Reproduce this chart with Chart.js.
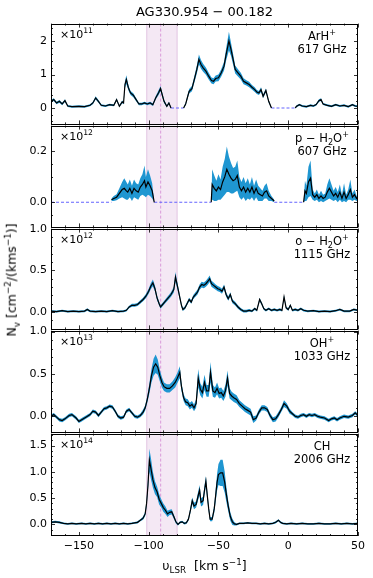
<!DOCTYPE html>
<html>
<head>
<meta charset="utf-8">
<script src="https://cdn.jsdelivr.net/npm/chart.js@4.4.1/dist/chart.umd.min.js"></script>
<style>
  body { margin: 0; background: #fff; }
  #wrap { position: relative; width: 373px; height: 578px; font-family: 'DejaVu Sans', sans-serif; color: #000; overflow: hidden; }
  #wrap canvas { position: absolute; left: 0; }
  .t { position: absolute; white-space: nowrap; line-height: 1; transform: translate(-50%, -50%); }
  .t sup, .t sub { font-size: 70%; line-height: 0; }
  .spec { text-align: center; line-height: 12.5px; font-size: 11.5px; }
</style>
</head>
<body>
<div id="wrap"></div>
<script>
Chart.defaults.font.family = "'DejaVu Sans', sans-serif";
Chart.defaults.font.size = 11;
Chart.defaults.color = '#000';

// ---- data: [v_LSR (km/s), N_v (scaled), error]; null = masked gap ----
const ARH = [
  [-170,0.20,0.04],[-168,0.25,0.04],[-166,0.15,0.04],[-164,0.20,0.04],[-162,0.12,0.04],[-160,0.22,0.04],
  [-158,0.06,0.03],[-155,0.04,0.03],[-150,0.05,0.03],[-146,0.04,0.03],[-142,0.08,0.03],[-140,0.15,0.04],
  [-138,0.30,0.05],[-136,0.20,0.04],[-134,0.08,0.03],[-131,0.06,0.03],[-128,0.10,0.03],[-125,0.08,0.03],
  [-123,0.25,0.04],[-121,0.05,0.03],[-119,0.18,0.04],[-118,0.15,0.04],[-117,0.70,0.10],[-116,0.85,0.13],
  [-114.5,0.60,0.08],[-113,0.45,0.06],[-111,0.38,0.06],[-109,0.25,0.05],[-107,0.12,0.04],[-105,0.12,0.04],
  [-103,0.15,0.04],[-101,0.12,0.04],[-99,0.15,0.04],[-97,0.10,0.04],[-95,0.30,0.05],[-93,0.45,0.07],
  [-91.5,0.58,0.08],[-90,0.35,0.06],[-89,0.20,0.05],[-87,0.05,0.03],[-85.5,0.15,0.04],[-84,0.00,0.02],
  null,
  [-75,0.00,0.02],[-73.5,0.12,0.04],[-72,0.35,0.06],[-71,0.50,0.07],[-69,0.58,0.08],[-67,0.90,0.10],
  [-65.5,1.15,0.12],[-64,1.45,0.15],[-62.5,1.30,0.13],[-61,1.20,0.12],[-59,1.10,0.11],[-57,0.95,0.10],
  [-55,0.82,0.09],[-53.5,0.80,0.09],[-52,0.88,0.09],[-50,0.90,0.10],[-48,1.05,0.11],[-46,1.25,0.13],
  [-44.5,1.60,0.18],[-42.5,2.00,0.28],[-41,1.75,0.20],[-39.5,1.45,0.16],[-38,1.15,0.12],[-36,1.05,0.11],
  [-34,0.95,0.10],[-32,0.80,0.09],[-30,0.75,0.08],[-28,0.70,0.08],[-26,0.62,0.07],[-24,0.55,0.07],
  [-22.5,0.48,0.06],[-21,0.45,0.06],[-19.5,0.55,0.07],[-18,0.35,0.05],[-16,0.52,0.06],[-14,0.20,0.04],
  [-12,0.00,0.02],
  null,
  [5,0.00,0.02],[6,0.05,0.03],[8,0.10,0.03],[10,0.06,0.03],[13,0.04,0.03],[16,0.08,0.03],[18,0.06,0.03],
  [20,0.10,0.03],[22,0.22,0.04],[23.5,0.25,0.04],[25,0.12,0.03],[28,0.08,0.03],[31,0.05,0.03],
  [34,0.10,0.03],[37,0.06,0.03],[40,0.08,0.03],[43,0.04,0.03],[46,0.10,0.03],[48,0.06,0.03],[50,0.05,0.03]
];
const ARH_MASK = [[-84,-75],[-12,5]];

const PH2O = [
  [-126.7,0.010,0.005],[-125,0.015,0.010],[-123,0.020,0.012],[-121,0.035,0.020],[-119,0.050,0.030],
  [-117.5,0.055,0.040],[-116,0.045,0.035],[-115,0.040,0.030],[-113.5,0.055,0.035],[-112,0.035,0.030],
  [-110.5,0.055,0.035],[-109,0.045,0.030],[-107.5,0.040,0.030],[-106,0.060,0.035],[-104.5,0.070,0.040],
  [-103,0.085,0.060],[-102,0.060,0.040],[-100.5,0.080,0.050],[-99,0.065,0.040],[-97.5,0.045,0.030],
  [-96,0.000,0.000],
  null,
  [-55.2,0.000,0.000],[-54.5,0.070,0.060],[-53,0.055,0.050],[-51.5,0.045,0.040],[-50,0.060,0.050],
  [-48.5,0.050,0.040],[-47,0.080,0.060],[-45.5,0.100,0.070],[-44,0.130,0.090],[-42.5,0.110,0.070],
  [-41,0.095,0.060],[-39.5,0.085,0.050],[-38,0.090,0.050],[-36.5,0.105,0.060],[-35,0.060,0.040],
  [-33.5,0.045,0.035],[-32,0.060,0.040],[-30.5,0.040,0.035],[-29,0.055,0.040],[-27.5,0.040,0.030],
  [-26,0.060,0.040],[-24.5,0.035,0.030],[-23,0.055,0.035],[-21.5,0.035,0.030],[-20,0.030,0.025],
  [-18.5,0.025,0.020],[-17,0.040,0.025],[-15.5,0.045,0.030],[-14,0.025,0.020],[-12,0.015,0.010],
  [-10,0.005,0.005],
  null,
  [11,0.000,0.000],[12,0.045,0.040],[13,0.035,0.030],[14.5,0.080,0.060],[16,0.095,0.070],[17.5,0.030,0.020],
  [19,0.020,0.015],[20.5,0.030,0.020],[22,0.015,0.015],[23.5,0.025,0.020],[25,0.015,0.015],
  [26.5,0.020,0.015],[28,0.040,0.030],[29.5,0.055,0.040],[31,0.040,0.030],[32.5,0.025,0.020],
  [34,0.035,0.025],[35.5,0.020,0.020],[37,0.040,0.030],[38.5,0.015,0.015],[40,0.040,0.035],
  [41.5,0.015,0.015],[43,0.030,0.020],[44.5,0.050,0.040],[46,0.020,0.015],[47.5,0.030,0.020],
  [49,0.015,0.010],[50,0.020,0.010]
];
const PH2O_MASK = [[-170,-126.7],[-96,-55.2],[-10,11]];

const OH2O = [
  [-170,0.010,0.012],[-166,0.005,0.012],[-162,0.015,0.012],[-158,0.005,0.012],[-154,0.010,0.012],
  [-150,0.005,0.012],[-146,0.010,0.012],[-144,0.030,0.014],[-142,0.010,0.012],[-138,0.005,0.012],
  [-134,0.010,0.012],[-130,0.005,0.012],[-126,0.015,0.012],[-122,0.005,0.012],[-118,0.010,0.012],
  [-116,0.020,0.014],[-114,0.060,0.016],[-112,0.080,0.018],[-110,0.080,0.018],[-108,0.090,0.018],
  [-106,0.120,0.020],[-104,0.150,0.022],[-102,0.190,0.025],[-100,0.250,0.030],[-98.5,0.310,0.035],
  [-97,0.350,0.040],[-95.5,0.280,0.035],[-94,0.170,0.028],[-92.5,0.100,0.022],[-91.5,0.060,0.020],
  [-90,0.090,0.020],[-88,0.130,0.022],[-86,0.170,0.025],[-84,0.210,0.028],[-82,0.270,0.035],
  [-80.8,0.420,0.060],[-79.5,0.320,0.040],[-78,0.200,0.030],[-76.5,0.080,0.022],[-75.5,0.030,0.018],
  [-74,0.050,0.018],[-72.5,0.100,0.020],[-71,0.150,0.022],[-69.5,0.120,0.022],[-68,0.180,0.025],
  [-66.5,0.210,0.028],[-65,0.240,0.030],[-63.5,0.300,0.032],[-62,0.330,0.035],[-60.5,0.320,0.035],
  [-59,0.340,0.035],[-57.5,0.370,0.038],[-56.3,0.400,0.040],[-55,0.340,0.035],[-53.5,0.320,0.035],
  [-52,0.300,0.032],[-50.5,0.280,0.032],[-49,0.270,0.030],[-47.5,0.250,0.030],[-46,0.300,0.032],
  [-44.5,0.210,0.028],[-43,0.160,0.025],[-41.5,0.210,0.028],[-40,0.130,0.024],[-38,0.100,0.022],
  [-36,0.060,0.020],[-34,0.030,0.018],[-32,0.010,0.016],[-30,0.010,0.016],[-28,0.020,0.015],
  [-26,0.010,0.014],[-24,0.040,0.015],[-22.5,0.020,0.014],[-20.5,0.150,0.020],[-19,0.100,0.018],
  [-17.5,0.040,0.015],[-16,0.020,0.014],[-14,0.040,0.014],[-12,0.020,0.014],[-10,0.030,0.014],
  [-8,0.020,0.014],[-6,0.030,0.014],[-4.5,0.020,0.014],[-3,0.180,0.020],[-1.5,0.050,0.015],
  [0,0.030,0.014],[1.5,0.080,0.016],[3,0.020,0.014],[5,0.030,0.014],[7,0.020,0.013],[9,0.040,0.014],
  [11,0.020,0.013],[14,0.010,0.012],[18,0.015,0.012],[22,0.005,0.012],[26,0.010,0.012],
  [30,0.005,0.012],[34,0.015,0.012],[37,0.030,0.013],[40,0.010,0.012],[44,0.010,0.012],
  [47,0.030,0.013],[50,0.020,0.012]
];

const OHP = [
  [-170,0.00,0.02],[-168,0.02,0.02],[-166,-0.01,0.02],[-164,-0.04,0.02],[-162,-0.05,0.02],[-160,-0.03,0.02],
  [-157,0.01,0.02],[-155,0.02,0.02],[-152,-0.02,0.02],[-150,-0.06,0.02],[-148,-0.04,0.02],[-145,-0.01,0.02],
  [-142,0.02,0.02],[-140,0.06,0.02],[-138,0.05,0.02],[-136,0.01,0.02],[-134,0.05,0.02],[-132,0.09,0.02],
  [-130,0.10,0.02],[-128,0.12,0.02],[-126,0.11,0.02],[-124,0.06,0.02],[-122,0.00,0.02],[-120,-0.02,0.02],
  [-118,-0.01,0.02],[-116,0.06,0.02],[-114,0.08,0.02],[-112,0.04,0.02],[-110,0.00,0.02],[-108,-0.01,0.02],
  [-106,0.01,0.02],[-104,0.05,0.03],[-102.5,0.10,0.03],[-101,0.20,0.04],[-99.5,0.33,0.06],[-98,0.48,0.08],
  [-96.5,0.58,0.10],[-95,0.62,0.11],[-93.5,0.58,0.09],[-92,0.48,0.07],[-90.5,0.40,0.06],[-89,0.35,0.05],
  [-87,0.33,0.05],[-85,0.33,0.05],[-83,0.36,0.05],[-81,0.40,0.06],[-79.5,0.45,0.06],[-77.7,0.52,0.07],
  [-76.5,0.35,0.05],[-75,0.22,0.04],[-73.5,0.17,0.04],[-72,0.16,0.04],[-70.5,0.12,0.04],[-69,0.14,0.04],
  [-67.5,0.10,0.04],[-66,0.15,0.05],[-64.5,0.45,0.11],[-63,0.32,0.07],[-61.5,0.28,0.07],[-60,0.40,0.09],
  [-58.5,0.30,0.07],[-57,0.30,0.07],[-55.7,0.52,0.12],[-54,0.30,0.07],[-52.5,0.28,0.06],[-51,0.33,0.07],
  [-49.5,0.27,0.06],[-48,0.28,0.06],[-46.5,0.24,0.06],[-45,0.30,0.07],[-43.5,0.45,0.09],[-42,0.27,0.06],
  [-40.5,0.24,0.05],[-39,0.22,0.05],[-37,0.20,0.05],[-35,0.15,0.04],[-33,0.12,0.04],[-31,0.09,0.04],
  [-29,0.07,0.04],[-27,0.05,0.04],[-25,-0.04,0.04],[-23,-0.02,0.03],[-21,0.05,0.03],[-19,0.10,0.03],
  [-17,0.10,0.03],[-15,0.08,0.03],[-13,0.01,0.03],[-11,-0.04,0.03],[-9,-0.03,0.03],[-7,0.02,0.03],
  [-5,0.08,0.03],[-3,0.15,0.04],[-1,0.12,0.03],[1,0.06,0.03],[3,0.03,0.02],[5,0.00,0.02],
  [7,-0.01,0.02],[9,0.01,0.02],[11,0.02,0.02],[13,0.00,0.02],[15,0.02,0.02],[17,0.01,0.02],
  [19,0.02,0.02],[21,0.00,0.02],[23,-0.01,0.02],[26,-0.02,0.02],[29,-0.05,0.02],[31,-0.03,0.02],
  [33,-0.02,0.02],[35,-0.04,0.02],[37,-0.02,0.02],[40,0.00,0.02],[43,-0.01,0.02],[46,0.01,0.02],
  [48,0.04,0.02],[50,0.01,0.02]
];

const CH = [
  [-170,0.04,0.02],[-167,0.05,0.02],[-164,0.04,0.02],[-161,0.02,0.015],[-158,0.01,0.015],[-155,0.02,0.015],
  [-152,0.01,0.015],[-148,0.02,0.015],[-145,0.01,0.015],[-142,0.02,0.015],[-139,0.01,0.015],[-136,0.02,0.015],
  [-133,0.01,0.015],[-130,0.02,0.015],[-127,0.01,0.015],[-124,0.02,0.015],[-121,0.01,0.015],[-118,0.02,0.015],
  [-115,0.01,0.015],[-112,0.02,0.015],[-110,0.03,0.015],[-108,0.04,0.02],[-106,0.08,0.02],[-104,0.12,0.03],
  [-102.5,0.20,0.04],[-101.5,0.40,0.06],[-100.5,0.75,0.10],[-99.5,1.22,0.22],[-98.3,1.05,0.20],[-97,0.85,0.15],
  [-95.5,0.70,0.12],[-94,0.62,0.10],[-92.5,0.48,0.10],[-91,0.40,0.08],[-89.5,0.32,0.08],[-88,0.27,0.07],
  [-86.5,0.20,0.06],[-85,0.23,0.05],[-83.5,0.24,0.05],[-82,0.15,0.04],[-80.5,0.05,0.03],[-79,0.00,0.02],
  [-77.5,0.04,0.02],[-76,0.05,0.02],[-74.5,0.02,0.02],[-73,0.03,0.02],[-71.5,0.10,0.03],[-70,0.28,0.05],
  [-68.8,0.45,0.06],[-67.5,0.35,0.06],[-66,0.38,0.06],[-64.5,0.55,0.08],[-63.5,0.65,0.10],[-62.5,0.42,0.08],
  [-61,0.45,0.08],[-60,0.65,0.09],[-59,0.82,0.10],[-58,0.55,0.08],[-57,0.30,0.06],[-56,0.10,0.04],
  [-54.5,0.10,0.04],[-53,0.30,0.08],[-52,0.55,0.12],[-51,0.80,0.16],[-50,0.95,0.20],[-48.5,0.98,0.25],
  [-47,0.98,0.25],[-45.5,0.80,0.20],[-44.5,0.60,0.15],[-43,0.35,0.10],[-41.5,0.15,0.08],[-40,0.05,0.06],
  [-38.5,0.01,0.03],[-37,0.00,0.02],[-35,0.02,0.015],[-32,0.02,0.015],[-29,0.03,0.015],[-26,0.02,0.015],
  [-23,0.02,0.015],[-20,0.01,0.015],[-17,0.02,0.015],[-14,0.01,0.015],[-11,0.02,0.015],[-9,0.04,0.02],
  [-7,0.08,0.02],[-5.5,0.04,0.02],[-4,0.02,0.015],[-1,0.01,0.015],[2,0.02,0.015],[6,0.01,0.015],
  [10,0.02,0.015],[14,0.01,0.015],[18,0.01,0.015],[22,0.02,0.015],[26,0.01,0.015],[30,0.01,0.015],
  [34,0.02,0.015],[38,0.01,0.015],[42,0.02,0.015],[46,0.01,0.015],[50,0.02,0.015]
];

const SERIES = [ARH, PH2O, OH2O, OHP, CH];
const MASKS = [ARH_MASK, PH2O_MASK, [], [], []];
const SPECIES = ['ArH<sup>+</sup>', 'p − H<sub>2</sub>O<sup>+</sup>', 'o − H<sub>2</sub>O<sup>+</sup>', 'OH<sup>+</sup>', 'CH'];
const FREQS = ['617 GHz', '607 GHz', '1115 GHz', '1033 GHz', '2006 GHz'];
const EXPONENTS = [11, 12, 12, 13, 14];

const X_RANGE = [-170, 50];
const X_TICKS = [-150, -100, -50, 0, 50];
const X_MINOR = 10;
const Y_MIN = [-0.49, -0.099, -0.21, -0.19, -0.22];
const Y_MAX = [2.52, 0.302, 1.004, 1.012, 1.727];
const Y_TICKS = [[0, 1, 2], [0.0, 0.2], [0.0, 0.5, 1.0], [0.0, 0.5, 1.0], [0.0, 0.5, 1.0, 1.5]];
const Y_MINOR = [0.2, 0.05, 0.1, 0.1, 0.1];
const Y_DEC = [0, 1, 1, 1, 1];

const SHADE = [-101.4, -79.6];
const VLINE = -91.4;

// ---- layout ----
const PANEL_TOP = [23, 125, 228, 330, 433];
const PANEL_BOT = [125, 228, 330, 433, 536];
const PAD = 10;
const X_AXIS_H = 24;
const BAND = '#1f96d1';

const wrap = document.getElementById('wrap');

function minus(v) {
  return v < 0 ? '\u2212' + Math.abs(v) : String(v);
}

function segments(rows) {
  const segs = [[]];
  rows.forEach(r => {
    if (r === null) segs.push([]);
    else segs[segs.length - 1].push(r);
  });
  return segs.filter(s => s.length);
}

const axesPlugin = {
  id: 'axesDeco',
  beforeDatasetsDraw(chart) {
    const { ctx, chartArea: a, scales: { x } } = chart;
    const l = x.getPixelForValue(SHADE[0]);
    const r = x.getPixelForValue(SHADE[1]);
    ctx.save();
    ctx.fillStyle = 'rgba(205,150,205,0.22)';
    ctx.fillRect(l, a.top, r - l, a.bottom - a.top);
    ctx.strokeStyle = 'rgba(210,160,210,0.55)';
    ctx.lineWidth = 1;
    ctx.beginPath();
    ctx.moveTo(l, a.top); ctx.lineTo(l, a.bottom);
    ctx.moveTo(r, a.top); ctx.lineTo(r, a.bottom);
    ctx.stroke();
    const vx = x.getPixelForValue(VLINE);
    ctx.strokeStyle = '#d99ad9';
    ctx.setLineDash([3, 2]);
    ctx.beginPath();
    ctx.moveTo(vx, a.top); ctx.lineTo(vx, a.bottom);
    ctx.stroke();
    ctx.restore();
  },
  afterDraw(chart) {
    const { ctx, chartArea: a, scales: { x, y } } = chart;
    const i = chart.options.plugins.axesDeco.panel;
    ctx.save();
    ctx.strokeStyle = '#000';
    ctx.lineWidth = 1;
    ctx.strokeRect(Math.round(a.left) + 0.5, Math.round(a.top) + 0.5,
      Math.round(a.right - a.left) - 1, Math.round(a.bottom - a.top) - 1);
    ctx.lineWidth = 0.8;
    ctx.beginPath();
    for (let v = X_RANGE[0]; v <= X_RANGE[1] + 1e-9; v += X_MINOR) {
      const major = X_TICKS.includes(v);
      const len = major ? 4 : 2;
      const px = Math.round(x.getPixelForValue(v)) + 0.5;
      ctx.moveTo(px, a.bottom); ctx.lineTo(px, a.bottom - len);
      ctx.moveTo(px, a.top); ctx.lineTo(px, a.top + len);
    }
    const step = Y_MINOR[i];
    const start = Math.ceil(Y_MIN[i] / step - 1e-6);
    const end = Math.floor(Y_MAX[i] / step + 1e-6);
    for (let k = start; k <= end; k++) {
      const v = k * step;
      const major = Y_TICKS[i].some(t => Math.abs(t - v) < 1e-6);
      const len = major ? 4 : 2;
      const py = Math.round(y.getPixelForValue(v)) + 0.5;
      ctx.moveTo(a.left, py); ctx.lineTo(a.left + len, py);
      ctx.moveTo(a.right, py); ctx.lineTo(a.right - len, py);
    }
    ctx.stroke();
    ctx.restore();
  }
};

function buildPanel(i) {
  const last = i === SERIES.length - 1;
  const top = PANEL_TOP[i] - PAD;
  const h = PANEL_BOT[i] - PANEL_TOP[i] + PAD + (last ? X_AXIS_H : PAD);
  const canvas = document.createElement('canvas');
  canvas.width = 373;
  canvas.height = h;
  canvas.style.top = top + 'px';
  canvas.style.width = '373px';
  canvas.style.height = h + 'px';
  wrap.appendChild(canvas);

  const datasets = [];
  segments(SERIES[i]).forEach(seg => {
    datasets.push({
      data: seg.map(r => ({ x: r[0], y: r[1] - r[2] })),
      borderWidth: 0, pointRadius: 0, fill: false, order: 5,
    });
    datasets.push({
      data: seg.map(r => ({ x: r[0], y: r[1] + r[2] })),
      borderWidth: 0, pointRadius: 0, fill: '-1', backgroundColor: BAND, order: 5,
    });
    datasets.push({
      data: seg.map(r => ({ x: r[0], y: r[1] })),
      borderColor: '#000', borderWidth: 1.2, pointRadius: 0, fill: false, order: 0,
    });
  });
  MASKS[i].forEach(m => {
    datasets.push({
      data: [{ x: m[0], y: 0 }, { x: m[1], y: 0 }],
      borderColor: '#6464ff', borderWidth: 1.1, borderDash: [3, 2],
      pointRadius: 0, fill: false, order: 1,
    });
  });

  new Chart(canvas, {
    type: 'line',
    data: { datasets },
    options: {
      responsive: false,
      animation: false,
      layout: { padding: { left: 0, right: 15, top: PAD, bottom: last ? 0 : PAD } },
      plugins: {
        legend: { display: false },
        tooltip: { enabled: false },
        axesDeco: { panel: i },
      },
      scales: {
        x: {
          type: 'linear',
          min: X_RANGE[0],
          max: X_RANGE[1],
          display: last,
          grid: { display: false, drawTicks: false },
          border: { display: false },
          afterBuildTicks: s => { s.ticks = X_TICKS.map(v => ({ value: v })); },
          afterFit: s => { s.height = last ? X_AXIS_H : 0; },
          ticks: { padding: 4, maxRotation: 0, font: { size: 11 }, callback: v => minus(v) },
        },
        y: {
          min: Y_MIN[i],
          max: Y_MAX[i],
          grid: { display: false, drawTicks: false },
          border: { display: false },
          afterBuildTicks: s => { s.ticks = Y_TICKS[i].map(v => ({ value: v })); },
          afterFit: s => { s.width = 51; },
          ticks: { padding: 4, font: { size: 11 }, callback: v => v.toFixed(Y_DEC[i]) },
        },
      },
    },
    plugins: [axesPlugin],
  });

  const mult = document.createElement('div');
  mult.className = 't';
  mult.style.fontSize = '11px';
  mult.style.transform = 'translate(0, -50%)';
  mult.style.left = '60px';
  mult.style.top = (PANEL_TOP[i] + 11) + 'px';
  mult.innerHTML = '×10<sup>' + EXPONENTS[i] + '</sup>';
  wrap.appendChild(mult);

  const spec = document.createElement('div');
  spec.className = 't spec';
  spec.style.left = '322px';
  spec.style.top = (PANEL_TOP[i] + 19) + 'px';
  spec.innerHTML = SPECIES[i] + '<br>' + FREQS[i];
  wrap.appendChild(spec);
}

SERIES.forEach((s, i) => buildPanel(i));

function addText(html, x, y, size, rotate) {
  const d = document.createElement('div');
  d.className = 't';
  d.style.left = x + 'px';
  d.style.top = y + 'px';
  d.style.fontSize = size + 'px';
  if (rotate) d.style.transform = 'translate(-50%, -50%) rotate(-90deg)';
  d.innerHTML = html;
  wrap.appendChild(d);
}

addText('AG330.954 − 00.182', 204.5, 11, 13);
addText('υ<sub>LSR</sub>&nbsp; [km s<sup>−1</sup>]', 204.5, 566, 12.5);
addText('N<sub>v</sub> [cm<sup>−2</sup>/(kms<sup>−1</sup>)]', 12, 280, 12.5, true);
</script>
</body>
</html>
